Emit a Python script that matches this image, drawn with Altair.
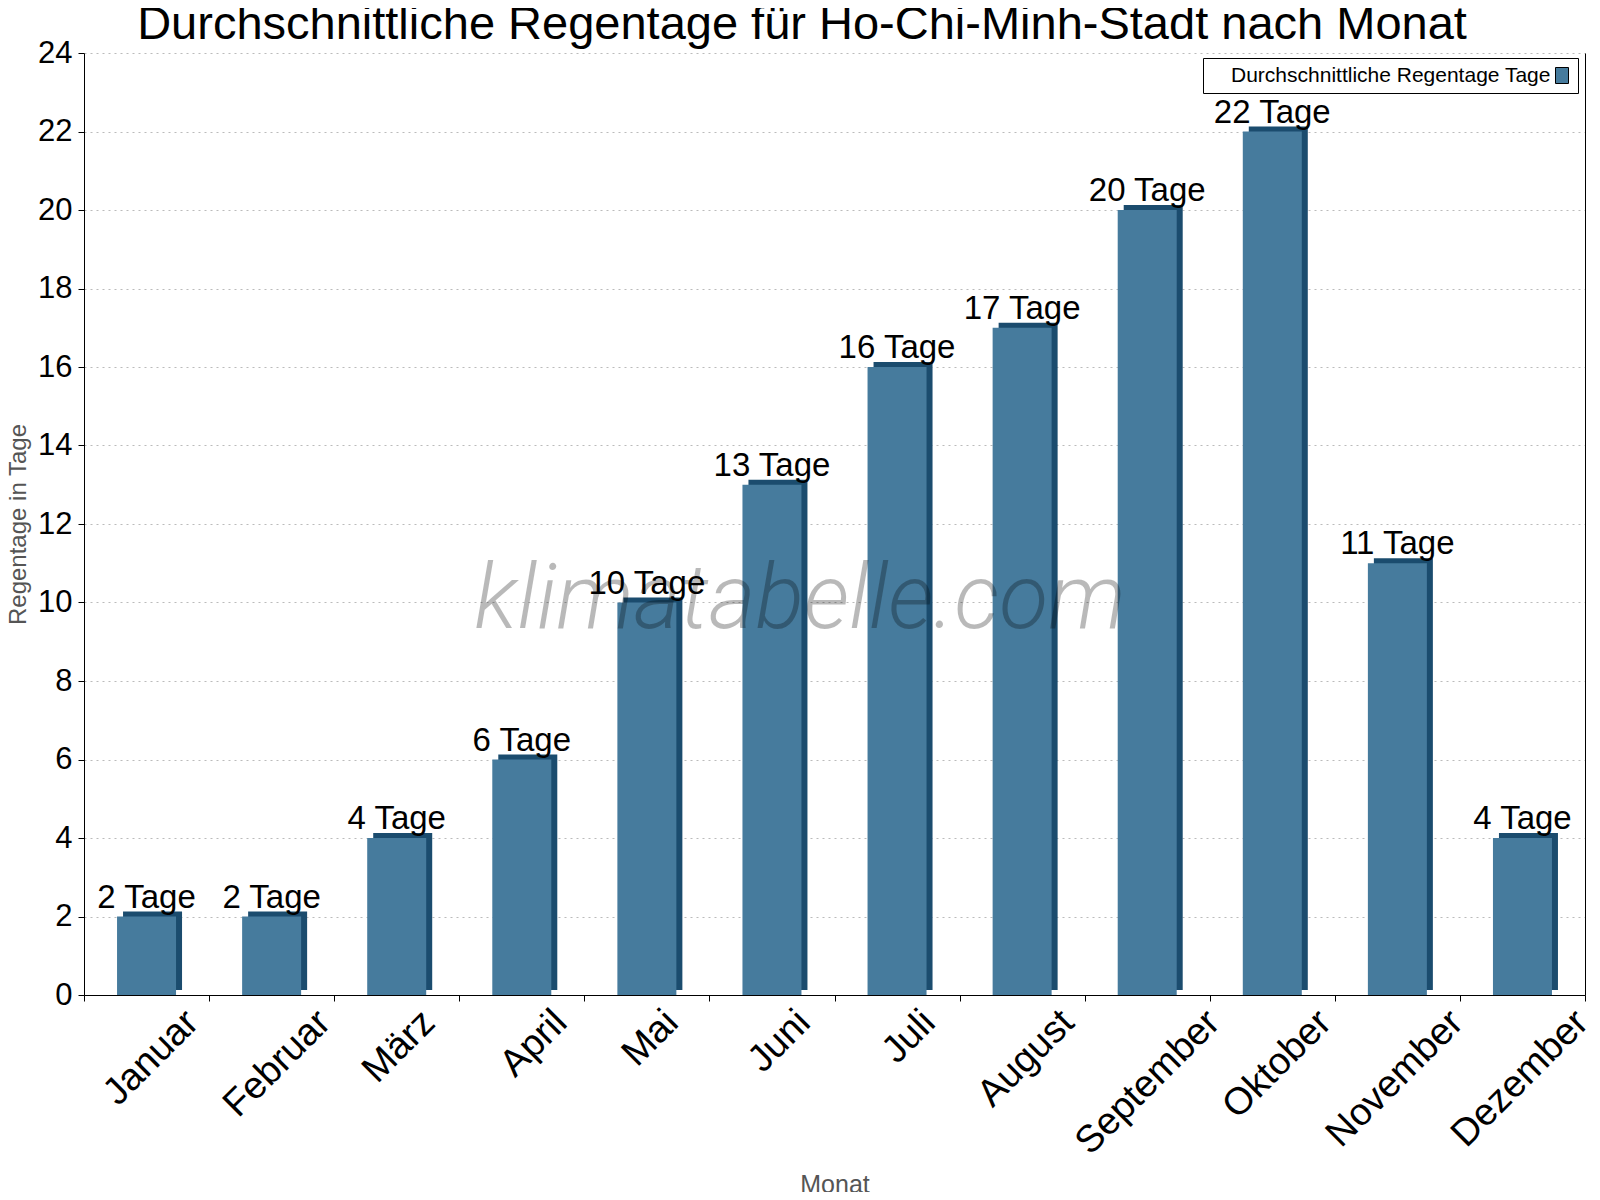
import altair as alt
import pandas as pd

# ---- data ----
months = ["Januar", "Februar", "März", "April", "Mai", "Juni",
          "Juli", "August", "September", "Oktober", "November", "Dezember"]
days = [2, 2, 4, 6, 10, 13, 16, 17, 20, 22, 11, 4]
y_ticks = [0, 2, 4, 6, 8, 10, 12, 14, 16, 18, 20, 22, 24]
series_name = "Durchschnittliche Regentage Tage"
title_text = ["Durchschnittliche Regentage für Ho-Chi-Minh-Stadt nach Monat"]
watermark = ["klimatabelle.com"]

df = pd.DataFrame({"month": months, "days": days})
df["label"] = [f"{d} Tage" for d in days]
df["series"] = series_name

FONT = "Liberation Sans"
FRONT = "#467B9D"
SIDE = "#1B4C6E"
W, H = 1501, 942
STEP = W / 12
XLAB_SIZE = 38

x_scale = alt.Scale(paddingInner=0, paddingOuter=0)

x_enc = alt.X(
    "month:N", sort=months, scale=x_scale,
    axis=alt.Axis(
        title="Monat", labels=False,
        tickBand="extent", tickSize=6, tickColor="black", domainColor="black",
        grid=False, titleFont=FONT, titleFontSize=25, titleColor="#555555",
        titleFontWeight="normal", titleX=W / 2, titleY=197,
        titleBaseline="alphabetic", titleAlign="center",
    ),
)

y_scale = alt.Scale(domain=[0, 24], nice=False, zero=True)

y_left = alt.Y(
    "days:Q", scale=y_scale,
    axis=alt.Axis(
        values=y_ticks, title="Regentage in Tage", labelFontSize=31, labelFont=FONT,
        labelColor="black", labelPadding=6, tickSize=6, tickColor="black",
        domainColor="black", grid=True, gridColor="#BBBBBB", gridDash=[2, 4],
        gridWidth=1, titleFont=FONT, titleFontSize=24, titleColor="#555555",
        titleFontWeight="normal", titleX=-59, titleY=H / 2, titleAngle=270,
        titleBaseline="alphabetic", titleAlign="center",
    ),
)

y_right = alt.Y(
    "days:Q", scale=y_scale,
    axis=alt.Axis(orient="right", labels=False, ticks=False, grid=False,
                  title=None, domainColor="black"),
)

y_plain = alt.Y("days:Q", scale=y_scale, axis=None)

base = alt.Chart(df)

back = base.mark_bar(color=SIDE, size=59, xOffset=6, yOffset=-5, y2Offset=-5).encode(
    x=x_enc, y=y_right
)

front = base.mark_bar(size=59).encode(
    x=x_enc, y=y_left,
    color=alt.Color(
        "series:N", scale=alt.Scale(range=[FRONT]),
        legend=alt.Legend(
            title=None, orient="none", legendX=1119, legendY=5, padding=7,
            strokeColor="black", fillColor="white", cornerRadius=0,
            labelFont=FONT, labelFontSize=21, labelColor="black", labelLimit=600,
            # swatch drawn to the right of the label
            symbolType="M167.5,-4L174,-4L174,4L167.5,4Z",
            symbolSize=16,
            symbolStrokeColor="black", symbolStrokeWidth=1,
            labelOffset=0,
        ),
    ),
)

labels = base.mark_text(
    font=FONT, fontSize=33, color="black", baseline="alphabetic", align="center", dy=-9
).encode(x=x_enc, y=y_plain, text="label:N")

# rotated month labels, centred under their band like the reference
month_labels = base.transform_calculate(
    off=f"{STEP / 2 + 5} + {0.354 * 0.51 * XLAB_SIZE} * length(datum.month)"
).mark_text(
    font=FONT, fontSize=XLAB_SIZE, color="black", align="right", baseline="middle",
    angle=315,
).encode(
    x=x_enc,
    xOffset=alt.XOffset("off:Q", scale=alt.Scale(domain=[0, 100], range=[0, 100])),
    y=alt.value(H + 22),
    text="month:N",
)

wm = alt.Chart(pd.DataFrame({"t": watermark})).mark_text(
    font="Roboto", fontSize=90, fontStyle="italic", fontWeight=300,
    color="black", opacity=0.27, align="center", baseline="alphabetic",
).encode(x=alt.value(716), y=alt.value(575), text="t:N")

title = alt.Chart(pd.DataFrame({"t": title_text})).mark_text(
    font=FONT, fontSize=47, color="black", align="center", baseline="alphabetic",
).encode(x=alt.value(718), y=alt.value(-14), text="t:N")

chart = (
    alt.layer(back, front, labels, month_labels, wm, title)
    .resolve_axis(y="independent")
    .properties(
        width=W, height=H,
        autosize=alt.AutoSizeParams(type="none"),
        padding={"left": 76, "top": 45, "right": 7, "bottom": 197},
        background="white",
    )
    .configure_view(stroke="transparent")
)

chart.save("out.html", embed_options={"renderer": "svg", "actions": False})
